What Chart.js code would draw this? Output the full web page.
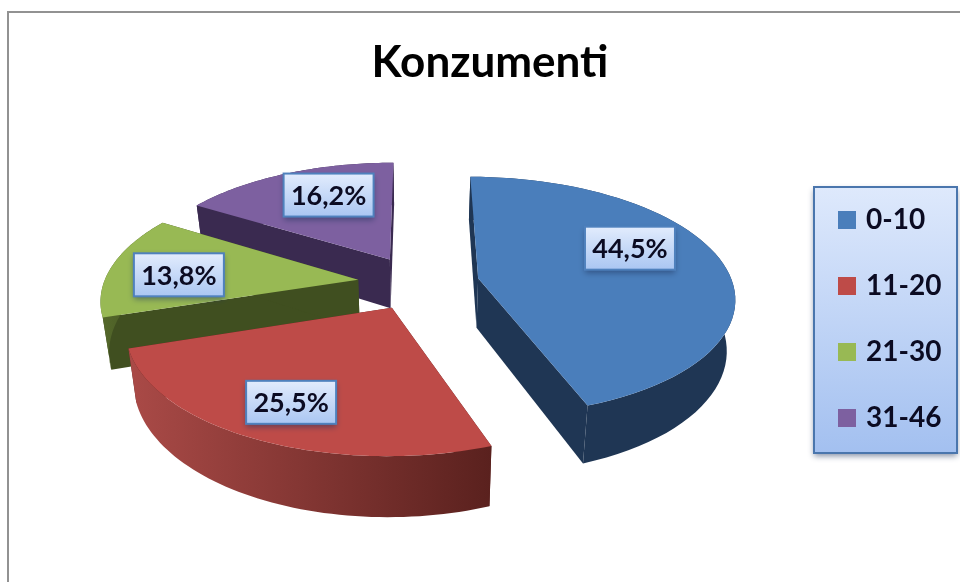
<!DOCTYPE html>
<html><head><meta charset="utf-8">
<style>html,body{margin:0;padding:0;background:#fff}canvas{display:block}</style>
<script src="https://cdn.jsdelivr.net/npm/chart.js@4/dist/chart.umd.min.js"></script>
</head><body><canvas id="c" width="960" height="582"></canvas>
<script>
const categories = ['0-10','11-20','21-30','31-46'];
const values = [44.5,25.5,13.8,16.2];
const chartTitle = 'Konzumenti';
const topColors = ['#4a7ebb','#be4b48','#98b954','#7d60a0'];
const radialWallColors = ['#1f3654','#5a211e','#404f20','#3a2a50'];
const outerWallStops = [['#1f3654','#1f3654'],['#aa4a47','#5a211e'],['#55692b','#404f20'],['#3a2a50','#3a2a50']];
const explodeOffsets = [64,60,63,62];
const labelAnglePos = [0.419,0.502,0.43,0.59];
const labelRadiusPos = [0.688,0.753,0.715,0.695];

const view = {cx:418, cy:283, k:0.445, persp:0.15, scaleX:0.96, depth:50, converge:0.027};
const legendFrame = {x:814, y:187, w:143, h:266};

function project(arc, X, Y, z){
  const w = 1 - view.persp * Y / arc.outerRadius;
  const narrow = 1 - view.converge * z / view.depth;
  return {x: view.cx + view.scaleX * narrow * X / w, y: view.cy + (view.k * Y + z) / w};
}
function sliceGeom(arc){
  const mid = (arc.startAngle + arc.endAngle) / 2, d = arc.options.offset || 0, R = arc.outerRadius;
  const ax = Math.cos(mid) * d, ay = Math.sin(mid) * d;
  const pts = [], n = 60;
  for (let i = 0; i <= n; i++){
    const a = arc.startAngle + (arc.endAngle - arc.startAngle) * i / n;
    pts.push([ax + Math.cos(a) * R, ay + Math.sin(a) * R]);
  }
  return {ax, ay, pts};
}
function poly(ctx, list, fill){
  ctx.beginPath();
  list.forEach((p, i) => i ? ctx.lineTo(p.x, p.y) : ctx.moveTo(p.x, p.y));
  ctx.closePath(); ctx.fillStyle = fill; ctx.fill();
}
function roundBox(ctx, x, y, w, h, stops, border, lw, shadow){
  ctx.save();
  ctx.shadowColor = 'rgba(30,50,90,0.55)'; ctx.shadowBlur = shadow; ctx.shadowOffsetY = 3; ctx.shadowOffsetX = 0;
  const g = ctx.createLinearGradient(0, y, 0, y + h);
  g.addColorStop(0, stops[0]); g.addColorStop(1, stops[1]);
  ctx.fillStyle = g; ctx.fillRect(x, y, w, h);
  ctx.shadowColor = 'transparent';
  ctx.strokeStyle = border; ctx.lineWidth = lw; ctx.strokeRect(x, y, w, h);
  ctx.restore();
}
const pie3d = {
  id:'pie3d',
  beforeDraw(chart){
    const ctx = chart.ctx;
    ctx.save();
    ctx.fillStyle = '#fff'; ctx.fillRect(0, 0, 960, 582);
    ctx.strokeStyle = '#929292'; ctx.lineWidth = 2;
    ctx.beginPath(); ctx.moveTo(8, 582); ctx.lineTo(8, 12); ctx.lineTo(960, 12); ctx.stroke();
    ctx.restore();
    roundBox(ctx, legendFrame.x, legendFrame.y, legendFrame.w, legendFrame.h, ['#dee9fc','#a3c0f0'], '#4a76ad', 2, 6);
  },
  afterLayout(chart){
    const l = chart.legend, pad = chart.options.plugins.legend.labels.padding;
    l.left = 842 - pad; l.right = 960; l.top = 206 - pad; l.bottom = 560; l.width = l.right - l.left;
  },
  beforeDatasetDraw(chart){
    const ctx = chart.ctx, arcs = chart.getDatasetMeta(0).data;
    [3,2,1,0].forEach(i => {
      const arc = arcs[i], g = sliceGeom(arc), D = view.depth;
      const apexT = project(arc, g.ax, g.ay, 0), apexB = project(arc, g.ax, g.ay, D);
      const top = g.pts.map(p => project(arc, p[0], p[1], 0));
      const bot = g.pts.map(p => project(arc, p[0], p[1], D));
      const last = top.length - 1;
      poly(ctx, [apexT, top[0], bot[0], apexB], radialWallColors[i]);
      poly(ctx, [apexT, top[last], bot[last], apexB], radialWallColors[i]);
      const xs = top.map(p => p.x), x0 = Math.min(...xs), x1 = Math.max(...xs);
      const grad = ctx.createLinearGradient(x0, 0, x1, 0);
      grad.addColorStop(0, outerWallStops[i][0]); grad.addColorStop(1, outerWallStops[i][1]);
      poly(ctx, top.concat(bot.slice().reverse()), grad);
      poly(ctx, [apexT].concat(top), topColors[i]);
    });
    return false;
  },
  afterDatasetsDraw(chart){
    const ctx = chart.ctx, arcs = chart.getDatasetMeta(0).data;
    arcs.forEach((arc, i) => {
      const g = sliceGeom(arc);
      const a = arc.startAngle + (arc.endAngle - arc.startAngle) * labelAnglePos[i];
      const r = arc.outerRadius * labelRadiusPos[i];
      const p = project(arc, g.ax + Math.cos(a) * r, g.ay + Math.sin(a) * r, 0);
      const w = 90, h = 43;
      roundBox(ctx, p.x - w / 2, p.y - h / 2, w, h, ['#e2ecfd','#aac6f2'], '#4f81bd', 2, 6);
      ctx.save();
      ctx.font = 'bold 27px Lato'; ctx.fillStyle = '#0b0b22';
      ctx.textAlign = 'center'; ctx.textBaseline = 'middle';
      ctx.fillText(values[i].toFixed(1).replace('.', ',') + '%', p.x, p.y + 1);
      ctx.restore();
    });
  }
};
new Chart(document.getElementById('c'), {
  type:'pie',
  data:{labels:categories, datasets:[{data:values, backgroundColor:topColors, borderWidth:0, offset:explodeOffsets, radius:265}]},
  plugins:[pie3d],
  options:{
    responsive:false, animation:false,
    layout:{padding:{left:20, top:0, right:0, bottom:0}},
    plugins:{
      tooltip:{enabled:false},
      title:{display:true, text:chartTitle, color:'#000', font:{family:'Lato', size:44, weight:'bold'}, padding:{top:36, bottom:20}},
      legend:{display:true, position:'right', align:'start',
        labels:{boxWidth:10, boxHeight:10, padding:38, color:'#0b0b22', font:{family:'Lato', size:28, weight:'bold'},
          generateLabels(chart){
            return categories.map((t, i) => ({text:t, fillStyle:topColors[i], strokeStyle:topColors[i], lineWidth:8, fontColor:'#0b0b22', index:i}));
          }}}
    }
  }
});
</script></body></html>
